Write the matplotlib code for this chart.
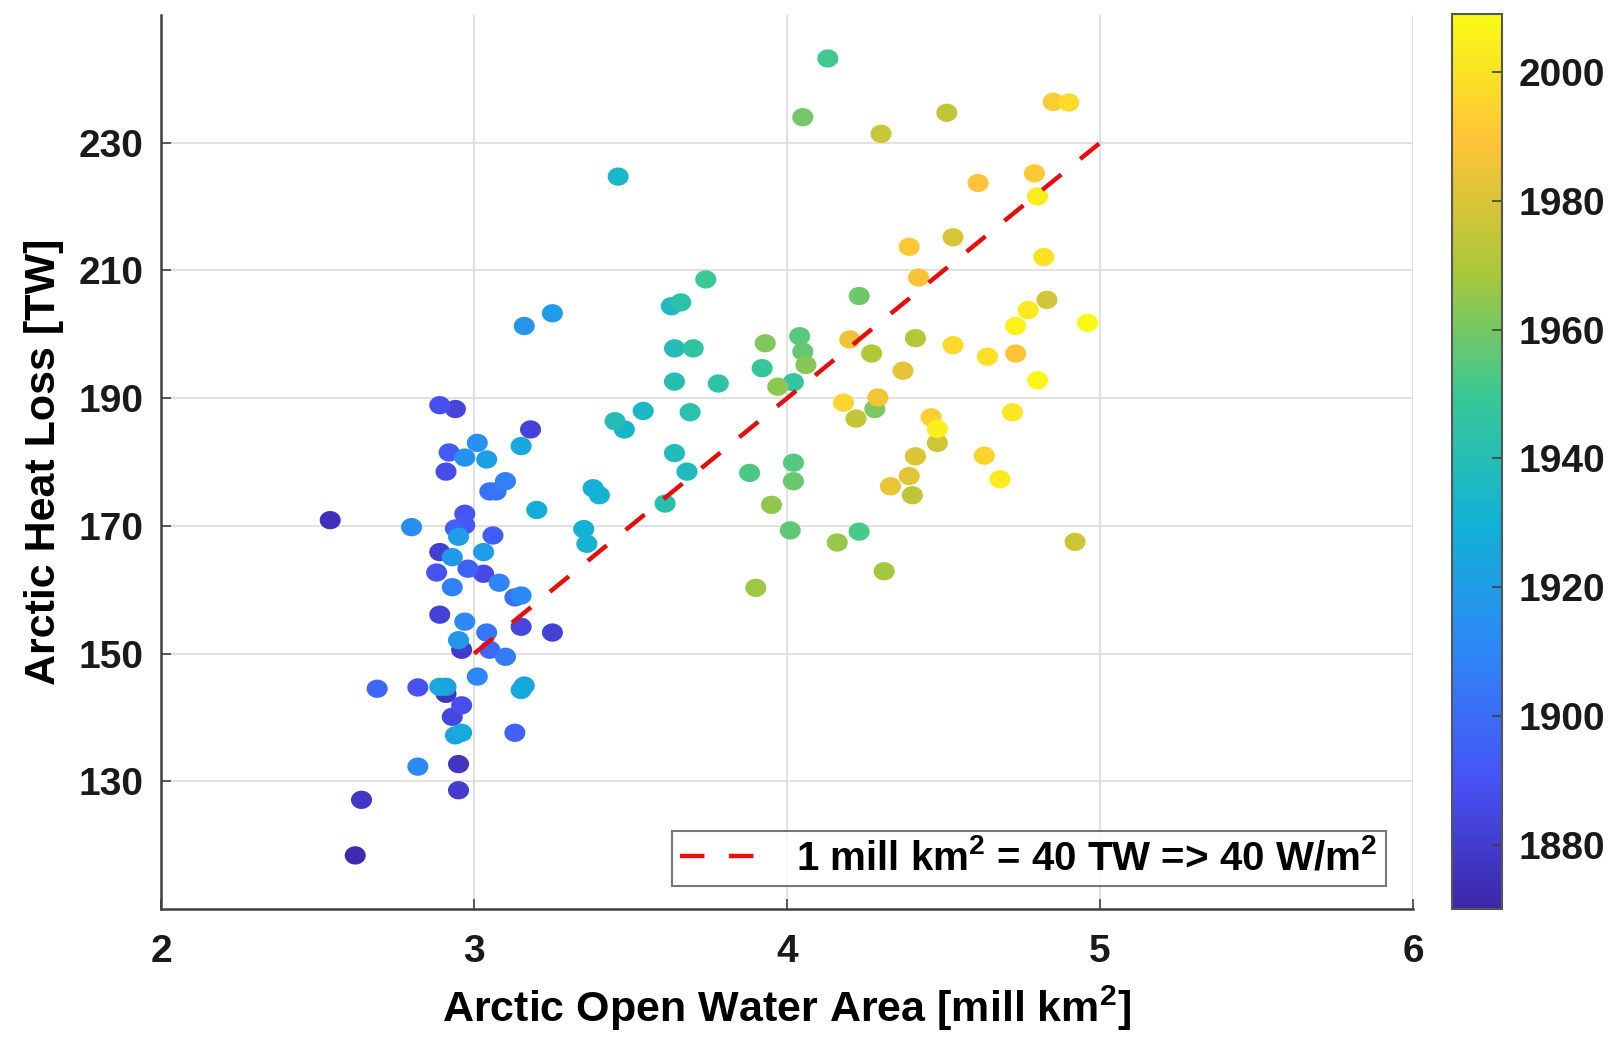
import numpy as np
import matplotlib
matplotlib.use("Agg")
import matplotlib.pyplot as plt
from matplotlib.colors import LinearSegmentedColormap
from matplotlib.path import Path

# open water area [mill km2], heat loss [TW], year (colour)
area = [2.54, 2.62, 2.64, 2.95, 2.95, 2.93, 2.96, 2.91, 2.96, 2.89,
        2.88, 2.89, 2.97, 2.94, 2.97, 2.91, 2.92, 2.89, 2.94, 3.18,
        3.15, 3.25, 3.13, 3.03, 3.06, 2.69, 2.82, 2.82, 2.80, 2.89,
        2.91, 2.94, 2.96, 2.93, 2.93, 2.95, 2.97, 2.95, 3.01, 3.04,
        2.97, 2.98, 3.03, 3.01, 3.05, 3.07, 3.10, 3.08, 3.13, 3.15,
        3.04, 3.05, 3.10, 3.15, 3.20, 3.16, 3.15, 3.16, 3.25, 3.46,
        3.35, 3.36, 3.38, 3.40, 3.45, 3.48, 3.54, 3.61, 3.64, 3.64,
        3.64, 3.63, 3.66, 3.68, 3.69, 3.70, 3.74, 3.78, 3.88, 3.90,
        3.93, 3.92, 3.95, 3.97, 4.01, 4.02, 4.02, 4.02, 4.04, 4.05,
        4.06, 4.05, 4.13, 4.23, 4.16, 4.23, 4.31, 4.27, 4.28, 4.20,
        4.22, 4.18, 4.30, 4.51, 4.85, 4.90, 4.29, 4.33, 4.39, 4.42,
        4.40, 4.41, 4.37, 4.39, 4.41, 4.46, 4.48, 4.48, 4.53, 4.53,
        4.61, 4.63, 4.64, 4.68, 4.72, 4.73, 4.73, 4.77, 4.79, 4.80,
        4.80, 4.82, 4.83, 4.92, 4.96]
heat = [170.9, 118.4, 127.1, 128.6, 132.7, 140.1, 141.9, 143.7, 150.6, 156.1,
        162.7, 165.9, 171.9, 169.6, 170.1, 178.5, 181.5, 188.9, 188.3, 185.1,
        154.2, 153.3, 137.6, 162.5, 168.5, 144.5, 144.7, 132.3, 169.8, 144.8,
        144.8, 137.2, 137.6, 165.1, 160.4, 168.3, 155.0, 152.1, 183.0, 180.4,
        180.7, 163.3, 165.9, 146.4, 175.4, 175.4, 177.0, 161.1, 158.8, 159.1,
        153.3, 150.6, 149.5, 182.5, 172.5, 145.0, 144.3, 201.3, 203.3, 224.7,
        169.5, 167.2, 175.9, 174.8, 186.4, 185.1, 188.0, 173.5, 181.4, 192.6,
        197.8, 204.4, 205.0, 178.5, 187.8, 197.8, 208.6, 192.3, 178.3, 160.3,
        198.6, 194.7, 173.3, 191.8, 169.3, 192.5, 179.9, 177.0, 199.7, 197.3,
        195.2, 234.0, 243.2, 206.0, 167.4, 169.1, 162.9, 197.0, 188.3, 199.2,
        186.8, 189.3, 231.4, 234.7, 236.4, 236.3, 190.1, 176.2, 213.7, 208.9,
        174.8, 199.4, 194.3, 177.8, 180.9, 187.0, 185.2, 183.0, 215.2, 198.3,
        223.7, 181.0, 196.5, 177.3, 187.8, 201.3, 197.0, 203.8, 225.2, 221.6,
        192.8, 212.1, 205.4, 167.5, 201.8]
year = [1875, 1872, 1878, 1880, 1877, 1885, 1888, 1876, 1879, 1882,
        1890, 1881, 1891, 1895, 1892, 1887, 1893, 1889, 1884, 1883,
        1885, 1882, 1896, 1886, 1894, 1898, 1890, 1912, 1913, 1925,
        1922, 1923, 1927, 1918, 1907, 1920, 1911, 1917, 1914, 1921,
        1915, 1895, 1919, 1910, 1901, 1903, 1908, 1909, 1902, 1911,
        1904, 1899, 1906, 1926, 1928, 1924, 1926, 1916, 1919, 1934,
        1930, 1932, 1929, 1931, 1940, 1933, 1935, 1942, 1938, 1941,
        1939, 1936, 1944, 1937, 1943, 1946, 1950, 1945, 1953, 1967,
        1962, 1948, 1965, 1964, 1956, 1947, 1954, 1958, 1955, 1957,
        1963, 1960, 1951, 1959, 1966, 1952, 1968, 1970, 1961, 1985,
        1975, 1995, 1976, 1974, 1992, 1998, 1986, 1984, 1990, 1987,
        1973, 1972, 1983, 1982, 1981, 1993, 2005, 1978, 1980, 1997,
        1988, 1994, 1999, 2003, 2001, 2006, 1989, 2002, 1991, 2004,
        2007, 2000, 1979, 1977, 2008]

line_x = [3, 5]
line_y = [150, 230]
label = r'1 mill km$^\mathbf{2}$ = 40 TW => 40 W/m$^\mathbf{2}$'

# parula-like colormap
parula = LinearSegmentedColormap.from_list('parula', [
    (0.2422, 0.1504, 0.6603), (0.2810, 0.3228, 0.9579),
    (0.1786, 0.5289, 0.9682), (0.0689, 0.6948, 0.8394),
    (0.2161, 0.7843, 0.5923), (0.6720, 0.7793, 0.2227),
    (0.9970, 0.7659, 0.2199), (0.9769, 0.9839, 0.0805)])

# slightly wide ellipse marker, like the stretched original
t = np.linspace(0, 2 * np.pi, 40)
ellipse = Path(np.column_stack([1.15 * np.cos(t), np.sin(t)]), closed=True)

plt.rcParams['font.family'] = ['Liberation Sans', 'DejaVu Sans']
plt.rcParams['font.weight'] = 'bold'
plt.rcParams['mathtext.fontset'] = 'custom'
plt.rcParams['mathtext.rm'] = 'Liberation Sans:bold'
plt.rcParams['mathtext.bf'] = 'Liberation Sans:bold'

fig = plt.figure(figsize=(16.12, 10.37), dpi=100)
ax = fig.add_axes([0.100, 0.1234, 0.7766, 0.8621])
cax = fig.add_axes([0.9007, 0.1234, 0.031, 0.8631])

order = np.argsort(year)
sc = ax.scatter(np.array(area)[order], np.array(heat)[order], c=np.array(year)[order],
                cmap=parula, vmin=1870, vmax=2009, s=230, marker=ellipse,
                edgecolors='none', zorder=3)
ax.plot(line_x, line_y, '--', color=(0.9, 0.05, 0.05), lw=3.2,
        dashes=(5.5, 5.5), zorder=4, label=label)

ax.set_xlim(2, 6)
ax.set_ylim(110, 250)
ax.set_xticks([2, 3, 4, 5, 6])
ax.set_yticks([130, 150, 170, 190, 210, 230])
ax.grid(True, color='#dcdcdc', lw=1.2, zorder=0)
ax.spines['top'].set_visible(False)
ax.spines['right'].set_visible(False)
for s in ['left', 'bottom']:
    ax.spines[s].set_color('#404040')
    ax.spines[s].set_linewidth(1.8)
ax.tick_params(direction='in', length=7, width=1.2, color='#404040',
               labelsize=28, labelcolor='#1a1a1a')
ax.tick_params(axis='x', pad=18)
ax.tick_params(axis='y', pad=13)

ax.set_xlabel(r'Arctic Open Water Area [mill km$^\mathbf{2}$]', fontsize=31,
              fontweight='bold', labelpad=10)
ax.set_ylabel('Arctic Heat Loss [TW]', fontsize=31, fontweight='bold', labelpad=10)

leg = ax.legend(loc='lower right', bbox_to_anchor=(0.978, 0.026), borderaxespad=0,
                fontsize=29, frameon=True, fancybox=False, handlelength=2.3,
                borderpad=0.2, handletextpad=0.6)
leg.get_frame().set_edgecolor('#555555')
leg.get_frame().set_linewidth(1.5)

cb = fig.colorbar(sc, cax=cax)
cb.set_ticks([1880, 1900, 1920, 1940, 1960, 1980, 2000])
cb.ax.tick_params(direction='in', length=7, width=1.2, labelsize=28, pad=12,
                  color='#404040', labelcolor='#1a1a1a')
cb.outline.set_edgecolor('#555555')
cb.outline.set_linewidth(1.5)

fig.savefig('out.png', dpi=100)
